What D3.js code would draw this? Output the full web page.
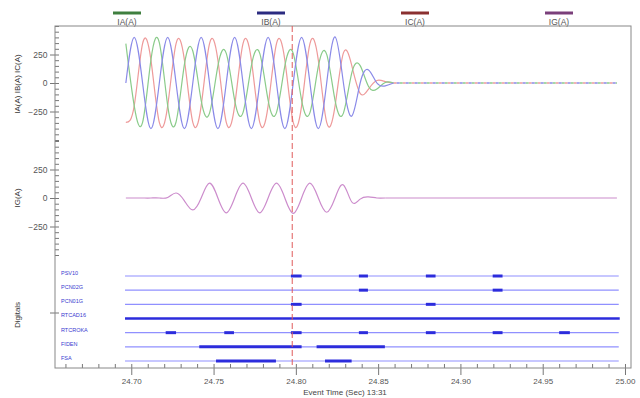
<!DOCTYPE html>
<html>
<head>
<meta charset="utf-8">
<script src="https://cdn.jsdelivr.net/npm/d3@7"></script>
<style>
  body { margin: 0; background: #fff; }
  svg { display: block; font-family: "Liberation Sans", Arial, sans-serif; }
</style>
</head>
<body>
<svg id="chart" width="640" height="398"></svg>
<script>
// analog samples, one every quarter cycle starting at sampleStart (sec)
const sampleStart = 24.6967;
const sampleStep = 0.005085;
const traceEnd = 24.9951;

const iaValues = [346, -200, -346, 205, 355, -198, -342, 163, 281, -153, -264, 150, 260, -150, -260, 150, 260,
  -150, -260, 150, 260, -150, -260, 145, 251, -153, -264, 88, 152, -30, -52, 5, 0];
const ibValues = [0, 400, 0, -400, 0, 400, 0, -400, 0, 400, 0, -400, 0, 400, 0, -400, 0,
  400, 0, -400, 0, 400, 0, -400, 0, 405, 0, -290, 0, 115, 0, -25, 0];
const icValues = [-346, -200, 346, 200, -346, -200, 346, 200, -346, -200, 346, 200, -346, -200, 346, 200, -346,
  -200, 346, 200, -346, -200, 346, 200, -346, -200, 264, 153, -91, -53, 22, 12, 0];
const igValues = [0, 0, 0, 0, 0, 5, 44, -25, -105, 0, 130, 0, -130, 0, 130, 0, -130,
  0, 130, 0, -135, 0, 130, 0, -125, 0, 115, -35, -10, 10, 0, 0];

const legendNames = ["IA(A)", "IB(A)", "IC(A)", "IG(A)"];
const legendColors = ["#3f7f3f", "#2b2b80", "#8a3030", "#7a3f7a"];
const traceColors = ["#8acb8a", "#8a8ae8", "#ee9a9a", "#cc8ccc"];

const xMajorTicks = [24.70, 24.75, 24.80, 24.85, 24.90, 24.95, 25.00];
const yMajorTicks = [250, 0, -250];

const digitalNames = ["PSV10", "PCN02G", "PCN01G", "RTCAD16", "RTCROKA", "FIDEN", "FSA"];
const digitalPulses = [
  [[24.797, 24.8035], [24.8383, 24.8438], [24.879, 24.8849], [24.9196, 24.9256]],
  [[24.8383, 24.8438], [24.9196, 24.9256]],
  [[24.797, 24.8035], [24.879, 24.8849]],
  [[24.6962, 24.9968]],
  [[24.7209, 24.7272], [24.7565, 24.7624], [24.797, 24.8035], [24.8383, 24.8438],
   [24.879, 24.8849], [24.9196, 24.9256], [24.96, 24.9665]],
  [[24.7413, 24.8035], [24.8126, 24.8541]],
  [[24.7515, 24.7879], [24.8177, 24.8339]]
];
const digitalSpan = [24.6962, 24.9962];
const eventTime = 24.7978;

const svg = d3.select("#chart");
const frame = {left: 55, right: 631, top: 26, bottom: 368};

const x = d3.scaleLinear().domain([24.65365, 25.00365]).range([frame.left, frame.right]);
const yTop = d3.scaleLinear().domain([500, -500]).range([26, 140]);
const yMid = d3.scaleLinear().domain([500, -500]).range([141, 255]);
const yDig = d3.scalePoint().domain(digitalNames).range([276, 361]);

// legend
const legendX = d3.scalePoint().domain(legendNames).range([127, 559]);
legendNames.forEach((n, i) => {
  const cx = legendX(n);
  svg.append("line").attr("x1", cx - 14).attr("x2", cx + 14).attr("y1", 13).attr("y2", 13)
    .attr("stroke", legendColors[i]).attr("stroke-width", 3);
  svg.append("text").attr("x", cx).attr("y", 24.5).attr("text-anchor", "middle")
    .attr("font-size", 8.5).attr("fill", "#555").text(n);
});

// x axis
const minorX = d3.range(2466, 2501).map(d => d / 100);
svg.append("g").attr("transform", `translate(0,${frame.bottom})`)
  .call(d3.axisBottom(x).tickValues(minorX).tickSize(-4).tickFormat(""))
  .call(g => g.select(".domain").remove());
svg.append("g").attr("transform", `translate(0,${frame.bottom})`)
  .call(d3.axisBottom(x).tickValues(xMajorTicks).tickSize(7).tickPadding(3).tickFormat(d3.format(".2f")))
  .call(g => g.select(".domain").remove())
  .call(g => g.selectAll("text").attr("font-size", 8).attr("fill", "#555").attr("font-family", null));

// y axes for the two analog panels
[yTop, yMid].forEach(y => {
  svg.append("g").attr("transform", `translate(${frame.left},0)`)
    .call(d3.axisLeft(y).tickValues(d3.range(-500, 501, 50)).tickSize(-4).tickFormat(""))
    .call(g => g.select(".domain").remove());
  svg.append("g").attr("transform", `translate(${frame.left},0)`)
    .call(d3.axisLeft(y).tickValues(yMajorTicks).tickSize(5).tickPadding(2.5))
    .call(g => g.select(".domain").remove())
    .call(g => g.selectAll("text").attr("font-size", 8.5).attr("fill", "#555").attr("font-family", null));
});
svg.selectAll(".tick line").attr("stroke", "#777");
svg.append("line").attr("x1", frame.left - 5).attr("x2", frame.left + 4)
  .attr("y1", 313).attr("y2", 313).attr("stroke", "#777");

// frame
svg.append("rect").attr("x", frame.left).attr("y", frame.top)
  .attr("width", frame.right - frame.left).attr("height", frame.bottom - frame.top)
  .attr("fill", "none").attr("stroke", "#888");

// axis titles
const yTitles = [["IA(A) IB(A) IC(A)", 84], ["IG(A)", 198], ["Digitals", 315]];
yTitles.forEach(([t, cy]) => {
  svg.append("text").attr("transform", `translate(20,${cy}) rotate(-90)`)
    .attr("text-anchor", "middle").attr("font-size", 8).attr("fill", "#333").text(t);
});
svg.append("text").attr("x", 345).attr("y", 395).attr("text-anchor", "middle")
  .attr("font-size", 8).attr("fill", "#444").text("Event Time (Sec)  13:31");

// analog traces
function drawTrace(values, y, color) {
  const pts = values.map((v, i) => [sampleStart + i * sampleStep, v]);
  const line = d3.line().x(d => x(d[0])).y(d => y(d[1])).curve(d3.curveNatural);
  svg.append("path").attr("d", line(pts)).attr("fill", "none")
    .attr("stroke", color).attr("stroke-width", 1.2);
  return pts[pts.length - 1][0];
}
function drawTail(t0, y, color, offset) {
  svg.append("line").attr("x1", x(t0)).attr("x2", x(traceEnd)).attr("y1", y(0)).attr("y2", y(0))
    .attr("stroke", color).attr("stroke-width", 1.6)
    .attr("stroke-dasharray", "3,6").attr("stroke-dashoffset", offset);
}
const phaseSeries = [icValues, iaValues, ibValues];
const phaseColors = [traceColors[2], traceColors[0], traceColors[1]];
phaseSeries.forEach((vals, i) => {
  const tEnd = drawTrace(vals, yTop, phaseColors[i]);
  drawTail(tEnd, yTop, phaseColors[i], i * 3);
});
const igEnd = drawTrace(igValues, yMid, traceColors[3]);
svg.append("line").attr("x1", x(igEnd)).attr("x2", x(traceEnd)).attr("y1", yMid(0)).attr("y2", yMid(0))
  .attr("stroke", traceColors[3]).attr("stroke-width", 1.2);

// digitals
digitalNames.forEach((n, i) => {
  const y = yDig(n);
  svg.append("text").attr("x", 61).attr("y", y - 2.5).attr("dominant-baseline", "middle")
    .attr("font-size", 5.5).attr("fill", "#3a3ad0").text(n);
  svg.append("line").attr("x1", x(digitalSpan[0])).attr("x2", x(digitalSpan[1]))
    .attr("y1", y).attr("y2", y).attr("stroke", "#9090ff").attr("stroke-width", 1.2);
  svg.selectAll(null).data(digitalPulses[i]).enter().append("line")
    .attr("x1", d => x(d[0])).attr("x2", d => x(d[1]))
    .attr("y1", y).attr("y2", y)
    .attr("stroke", "#2c2cdc").attr("stroke-width", n === "RTCAD16" ? 2.4 : 3);
});

// event marker
svg.append("line").attr("x1", x(eventTime)).attr("x2", x(eventTime))
  .attr("y1", frame.top).attr("y2", frame.bottom)
  .attr("stroke", "#e05a5a").attr("stroke-width", 1).attr("stroke-dasharray", "6,3");
</script>
</body>
</html>
